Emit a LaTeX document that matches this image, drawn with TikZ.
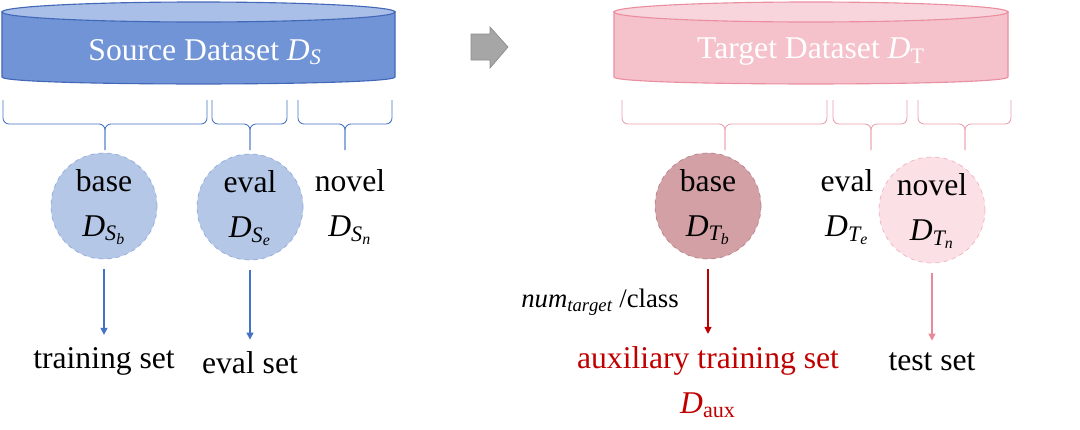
\documentclass[tikz,border=0pt]{standalone}
\usepackage{fontspec}
\setmainfont{LiberationSerif}[Extension=.ttf, UprightFont=*-Regular, ItalicFont=*-Italic, BoldFont=*-Bold, BoldItalicFont=*-BoldItalic]
\usetikzlibrary{arrows.meta}
\newcommand{\mi}[1]{\mathit{#1}}
\definecolor{srcbody}{HTML}{7094D6}
\definecolor{srctop}{HTML}{A9BFE8}
\definecolor{srcborder}{HTML}{4468B8}
\definecolor{tgtbody}{HTML}{F5C2CC}
\definecolor{tgttop}{HTML}{F8D5DC}
\definecolor{tgtborder}{HTML}{EA8FA0}
\definecolor{srccfill}{HTML}{B4C7E7}
\definecolor{srccdraw}{HTML}{8FAADC}
\definecolor{tbfill}{HTML}{D3A0A6}
\definecolor{tbdraw}{HTML}{B8808A}
\definecolor{tnfill}{HTML}{FBE1E6}
\definecolor{tndraw}{HTML}{F0B3BE}
\definecolor{blueline}{HTML}{4472C4}
\definecolor{darkred}{HTML}{C00000}
\definecolor{pinkline}{HTML}{E98A9B}
\definecolor{tbrace}{HTML}{E8A0AC}
\definecolor{greyfill}{HTML}{A6A6A6}
\definecolor{greydraw}{HTML}{8C8C8C}
\tikzset{
  x=0.025cm, y=-0.025cm,
  txt/.style={inner sep=0pt, font=\fontsize{22.5}{32}\selectfont, align=center},
  small/.style={inner sep=0pt, font=\fontsize{19}{22}\selectfont},
  dcirc/.style={circle, minimum size=2.65cm, inner sep=0pt, dashed, line width=0.5pt},
  brace/.style={line width=0.6pt, rounded corners=0.15cm},
  arr/.style={line width=0.8pt, -{Triangle[length=5pt,width=5pt]}, shorten <=0.25cm, shorten >=0.3cm},
}
\begin{document}
\begin{tikzpicture}
\useasboundingbox (0,0) rectangle (1080,429);
% source cylinder
\draw[srcborder, fill=srcbody, line width=0.8pt] (2,12) -- (2,77) .. controls (2,86.3) and (395,86.3) .. (395,77) -- (395,12) -- cycle;
\draw[srcborder, fill=srctop, line width=0.8pt] (198.5,12) ellipse [x radius=196.5, y radius=10];
\node[txt, text=white] (srcttl) at (205,52) {Source Dataset $\mi{D}_{\mi{S}}$};
% target cylinder
\draw[tgtborder, fill=tgtbody, line width=0.8pt] (614,12) -- (614,77) .. controls (614,86.3) and (1008,86.3) .. (1008,77) -- (1008,12) -- cycle;
\draw[tgtborder, fill=tgttop, line width=0.8pt] (811,12) ellipse [x radius=197, y radius=10];
\node[txt, text=white] (tgtttl) at (811,52) {Target Dataset $\mi{D}_{\mathrm{T}}$};
% grey block arrow
\draw[greydraw, fill=greyfill, line width=0.5pt] (471,34) -- (490,34) -- (490,27) -- (508,47) -- (490,68) -- (490,60) -- (471,60) -- cycle;
% source braces
\foreach \a/\b/\m in {3/207/105, 212/287/250, 298/392/345}{
  \draw[brace, blueline] (\a,100) -- (\a,124) -- (\m,124) -- (\m,150);
  \draw[brace, blueline] (\b,100) -- (\b,124) -- (\m,124) -- (\m,150);
}
% target braces
\foreach \a/\b/\m in {622/827/725, 833/907/871, 918/1011/965}{
  \draw[brace, tbrace] (\a,100) -- (\a,124) -- (\m,124) -- (\m,150);
  \draw[brace, tbrace] (\b,100) -- (\b,124) -- (\m,124) -- (\m,150);
}
% source circles
\node[dcirc, draw=srccdraw, fill=srccfill] (sb) at (104,206) {};
\node[txt] (sbl) at ([yshift=-0.03cm]sb.center) {base\\$\mi{D}_{\mi{S}_{\mi{b}}}$};
\node[dcirc, draw=srccdraw, fill=srccfill] (se) at (250,207) {};
\node[txt] (sel) at ([yshift=-0.03cm]se.center) {eval\\$\mi{D}_{\mi{S}_{\mi{e}}}$};
\node[txt] (snl) at (350,207) {novel\\$\mi{D}_{\mi{S}_{\mi{n}}}$};
% target circles
\node[dcirc, draw=tbdraw, fill=tbfill] (tb) at (708,206) {};
\node[txt] (tbl) at ([yshift=-0.03cm]tb.center) {base\\$\mi{D}_{\mi{T}_{\mi{b}}}$};
\node[txt] (tel) at (847,207) {eval\\$\mi{D}_{\mi{T}_{\mi{e}}}$};
\node[dcirc, draw=tndraw, fill=tnfill] (tn) at (932,210) {};
\node[txt] (tnl) at ([yshift=-0.03cm]tn.center) {novel\\$\mi{D}_{\mi{T}_{\mi{n}}}$};
% bottom labels
\node[txt] (train) at (104,361) {training set};
\node[txt] (evset) at (250,363) {eval set};
\node[txt, text=darkred] (aux) at (708,382) {auxiliary training set\\$\mi{D}_{\mathrm{aux}}$};
\node[txt] (test) at (932,362) {test set};
\node[small] (num) at (600,302) {$\mi{num}_{\mi{target}}$ /class};
% arrows
\draw[arr, blueline] (sb.south) -- (sb.south |- train.north);
\draw[arr, blueline] (se.south) -- (se.south |- evset.north);
\draw[arr, darkred] (tb.south) -- (tb.south |- aux.north);
\draw[arr, pinkline] (tn.south) -- (tn.south |- test.north);
\end{tikzpicture}
\end{document}
